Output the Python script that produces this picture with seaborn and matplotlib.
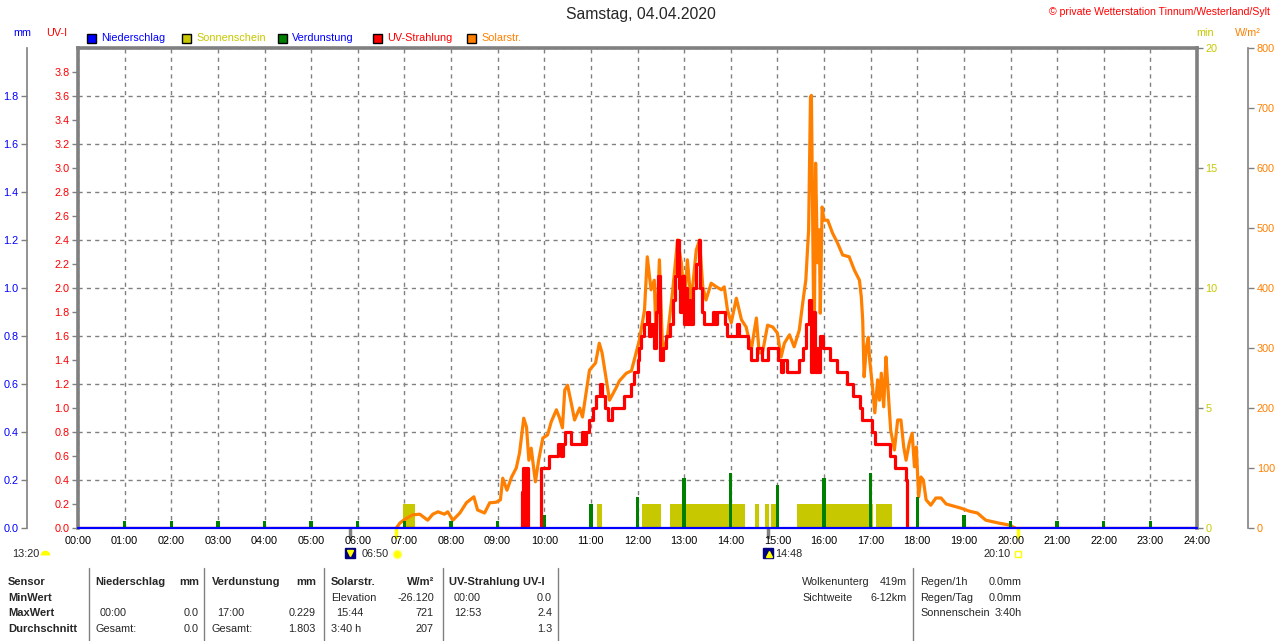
import numpy as np
import matplotlib
matplotlib.use("Agg")
import matplotlib.pyplot as plt
from matplotlib.patches import Rectangle
from matplotlib.lines import Line2D
from matplotlib.ticker import MultipleLocator
import seaborn as sns

# ---------------- data ----------------
hours = list(range(25))
hour_labels = [f"{h:02d}:00" for h in hours]

# UV index (steps)
uv_t = [0.0, 9.53, 9.545, 9.58, 9.61, 9.66, 9.92, 10.11, 10.29, 10.36, 10.40, 10.44, 10.58,
        10.80, 10.86, 10.90, 10.97, 11.04, 11.12, 11.19, 11.23, 11.30, 11.36, 11.45, 11.72,
        11.86, 11.93, 12.00, 12.04, 12.08, 12.15, 12.20, 12.25, 12.30, 12.35, 12.40, 12.45,
        12.49, 12.55, 12.62, 12.70, 12.77, 12.81, 12.85, 12.89, 12.92, 12.95, 12.99, 13.03,
        13.06, 13.10, 13.13, 13.20, 13.26, 13.31, 13.35, 13.38, 13.42, 13.62, 13.66, 13.70,
        13.88, 13.92, 14.13, 14.17, 14.38, 14.43, 14.56, 14.66, 14.80, 15.02, 15.07, 15.12,
        15.20, 15.47, 15.55, 15.62, 15.67, 15.72, 15.77, 15.80, 15.84, 15.88, 15.92, 15.97,
        16.13, 16.27, 16.49, 16.63, 16.78, 16.82, 17.02, 17.09, 17.42, 17.52, 17.75, 17.79, 24.0]
uv_v = [0.0, 0.3, 0.5, 0.0, 0.5, 0.0, 0.5, 0.6, 0.7, 0.6, 0.7, 0.8, 0.7,
        0.8, 0.7, 0.8, 0.9, 1.0, 1.1, 1.2, 1.1, 1.0, 0.9, 1.0, 1.1,
        1.2, 1.3, 1.4, 1.5, 1.6, 1.7, 1.8, 1.6, 1.7, 1.5, 1.8, 2.1,
        1.4, 1.5, 1.6, 1.7, 1.9, 2.1, 2.4, 2.0, 1.8, 2.1, 1.7, 2.0,
        1.7, 1.9, 1.7, 2.0, 2.2, 2.4, 2.0, 1.8, 1.7, 1.8, 1.7, 1.8,
        1.7, 1.6, 1.7, 1.6, 1.5, 1.4, 1.5, 1.4, 1.5, 1.4, 1.3, 1.4,
        1.3, 1.4, 1.5, 1.7, 1.9, 1.3, 1.8, 1.3, 1.5, 1.3, 1.6, 1.5,
        1.4, 1.3, 1.2, 1.1, 1.0, 0.9, 0.8, 0.7, 0.6, 0.5, 0.4, 0.0, 0.0]

# Solar radiation W/m²
sol_t = [6.83, 6.90, 7.00, 7.18, 7.33, 7.50, 7.61, 7.72, 7.86, 7.93, 8.04, 8.19, 8.33, 8.49,
         8.57, 8.72, 8.83, 8.97, 9.06, 9.11, 9.20, 9.30, 9.40, 9.47, 9.56, 9.62, 9.67, 9.72,
         9.81, 9.88, 9.97, 10.07, 10.15, 10.26, 10.33, 10.39, 10.44, 10.50, 10.58, 10.65,
         10.76, 10.82, 10.97, 11.10, 11.18, 11.24, 11.40, 11.55, 11.61, 11.76, 11.87, 12.04,
         12.15, 12.21, 12.29, 12.36, 12.40, 12.47, 12.54, 12.64, 12.75, 12.86, 12.94, 13.01,
         13.07, 13.15, 13.26, 13.33, 13.40, 13.47, 13.58, 13.69, 13.80, 13.86, 13.93, 14.01,
         14.12, 14.23, 14.33, 14.44, 14.55, 14.61, 14.68, 14.79, 14.90, 15.00, 15.08, 15.15,
         15.26, 15.36, 15.47, 15.56, 15.61, 15.67, 15.71, 15.73, 15.77, 15.79, 15.82, 15.86,
         15.90, 15.92, 15.96, 16.00, 16.08, 16.18, 16.29, 16.40, 16.54, 16.65, 16.76, 16.80,
         16.83, 16.86, 16.91, 16.95, 16.98, 17.04, 17.09, 17.15, 17.19, 17.23, 17.28, 17.33,
         17.36, 17.43, 17.51, 17.58, 17.65, 17.71, 17.76, 17.83, 17.89, 17.94, 17.98, 18.03,
         18.08, 18.13, 18.19, 18.29, 18.40, 18.51, 18.62, 18.76, 18.94, 19.12, 19.29, 19.47,
         19.76, 19.97, 20.10]
sol_v = [0, 8, 14, 22, 23, 13, 23, 27, 23, 27, 13, 25, 42, 52,
         30, 25, 42, 43, 47, 83, 63, 85, 100, 125, 183, 168, 113, 133,
         77, 113, 150, 155, 177, 197, 183, 167, 230, 238, 208, 180,
         200, 185, 263, 275, 308, 292, 213, 235, 245, 258, 262, 313,
         363, 452, 397, 413, 313, 447, 292, 318, 392, 480, 442, 375,
         447, 375, 463, 480, 402, 380, 408, 402, 397, 402, 363, 342,
         383, 347, 335, 297, 350, 292, 292, 338, 335, 325, 285, 308,
         322, 302, 330, 385, 413, 497, 718, 721, 413, 302, 608, 442,
         497, 358, 535, 513, 513, 492, 475, 455, 452, 430, 413, 385,
         347, 252, 302, 318, 280, 235, 192, 247, 213, 258, 202, 285,
         247, 163, 130, 180, 180, 135, 113, 142, 158, 102, 135, 52,
         85, 80, 47, 38, 50, 50, 40, 37, 33, 28, 25, 13,
         8, 5, 0]

# Evaporation mm (hourly)
evap_t = list(range(1, 24))
evap_v = [0.03, 0.03, 0.03, 0.03, 0.03, 0.03, 0.03, 0.03, 0.03, 0.054, 0.10, 0.13,
          0.21, 0.23, 0.18, 0.21, 0.229, 0.13, 0.054, 0.03, 0.03, 0.03, 0.03]

# Sunshine minutes
sun_start = [6.96, 11.14, 12.09, 12.69, 14.53, 14.74, 14.87, 15.43, 17.12]
sun_end = [7.22, 11.23, 12.51, 14.31, 14.61, 14.83, 15.04, 15.06 + 2.0, 17.46]
sun_min = [1, 1, 1, 1, 1, 1, 1, 1, 1]

# Precipitation mm
rain_t = [0.0, 24.0]
rain_v = [0.0, 0.0]

# sun / moon events (hours)
gray_events = [5.83, 14.8]
yellow_events = [6.83, 20.17]

# ---------------- style ----------------
sns.set_theme(style="white")
plt.rcParams['font.family'] = ['Liberation Sans', 'DejaVu Sans']

W, H = 1280, 641
fig = plt.figure(figsize=(12.8, 6.41), dpi=100)
fig.patch.set_facecolor('white')


def fx(p):
    return p / W


def fy(p):
    return 1 - p / H


GRAY = '#808080'
RED = '#ff0000'
ORANGE = '#ff8000'
YEL = '#c8c800'
BLUE = '#0000ff'
GREEN = '#008000'
FS = 7.8

L, R, T, B = 78, 1197, 48, 528
ax = fig.add_axes([fx(L), fy(B), (R - L) / W, (B - T) / H])
ax_min = ax.twinx()
ax_w = ax.twinx()
ax_mm = ax.twinx()

ax_min.set_zorder(1)
ax_w.set_zorder(2)
ax.set_zorder(3)
ax_mm.set_zorder(4)
for a in (ax, ax_min, ax_w, ax_mm):
    a.patch.set_visible(False)
    a.set_xlim(0, 24)
    for s in a.spines.values():
        s.set_visible(False)

ax.set_ylim(0, 4)
ax_mm.set_ylim(0, 2)
ax_min.set_ylim(0, 20)
ax_w.set_ylim(0, 800)

# grid on lowest axes
ax_min.xaxis.set_visible(True)
ax_min.set_xticks(hours)
ax_min.tick_params(axis='x', length=0, labelbottom=False, labeltop=False)
ax_min.grid(axis='x', color=GRAY, linestyle=(0, (3, 3)), linewidth=1)
ax_min.yaxis.set_minor_locator(MultipleLocator(2))
ax_min.yaxis.remove_overlapping_locs = False
ax_min.grid(axis='y', which='minor', color=GRAY, linestyle=(0, (3, 3)), linewidth=1)
ax_min.grid(axis='y', which='major', visible=False)
ax_min.tick_params(axis='y', which='minor', length=0)

# sunshine bars
ax_min.bar(sun_start, sun_min, width=np.array(sun_end) - np.array(sun_start), align='edge',
           color=YEL, linewidth=0, zorder=2)

# solar line
sns.lineplot(x=sol_t, y=sol_v, ax=ax_w, color=ORANGE, linewidth=2.3, estimator=None, sort=False)

# UV line
sns.lineplot(x=uv_t, y=uv_v, ax=ax, color=RED, linewidth=2.3, estimator=None, sort=False,
             drawstyle='steps-post')

# evaporation bars and precipitation line
ax_mm.bar(evap_t, evap_v, width=0.075, color=GREEN, linewidth=0)
sns.lineplot(x=rain_t, y=rain_v, ax=ax_mm, color=BLUE, linewidth=1.6, estimator=None)
for ln in ax_mm.lines:
    ln.set_clip_on(False)

for a in (ax, ax_min, ax_w, ax_mm):
    a.set_xlabel('')
    a.set_ylabel('')

# main spines
for side in ('left', 'top', 'right'):
    ax.spines[side].set_visible(True)
    ax.spines[side].set_color(GRAY)
    ax.spines[side].set_linewidth(2.6)
ax.spines['bottom'].set_visible(True)
ax.spines['bottom'].set_color(GRAY)
ax.spines['bottom'].set_linewidth(1.2)

# x ticks
ax.set_xticks(hours)
ax.set_xticklabels(hour_labels)
ax.tick_params(axis='x', labelsize=FS, color=GRAY, length=3, width=1, pad=3, labelcolor='black')

# UV axis
uv_ticks = [round(v * 0.2, 1) for v in range(20)]
ax.set_yticks(uv_ticks)
ax.set_yticklabels([f"{v:.1f}" for v in uv_ticks])
ax.yaxis.set_ticks_position('left')
ax.tick_params(axis='y', labelsize=FS, color=GRAY, labelcolor=RED, length=4, width=1, pad=2,
               left=True, right=False)

# mm axis
ax_mm.yaxis.set_ticks_position('left')
ax_mm.yaxis.set_label_position('left')
ax_mm.spines['left'].set_visible(True)
ax_mm.spines['left'].set_position(('outward', 37))
ax_mm.spines['left'].set_color(GRAY)
ax_mm.spines['left'].set_linewidth(1.2)
mm_ticks = [round(v * 0.2, 1) for v in range(10)]
ax_mm.set_yticks(mm_ticks)
ax_mm.set_yticklabels([f"{v:.1f}" for v in mm_ticks])
ax_mm.tick_params(axis='y', labelsize=FS, color=GRAY, labelcolor=BLUE, length=4, width=1, pad=2)

# min axis
ax_min.set_yticks([0, 5, 10, 15, 20])
ax_min.set_yticklabels(['0', '5', '10', '15', '20'])
ax_min.tick_params(axis='y', which='major', labelsize=FS, color=GRAY, labelcolor=YEL,
                   length=4, width=1, pad=2)

# W/m² axis
ax_w.spines['right'].set_visible(True)
ax_w.spines['right'].set_position(('outward', 37))
ax_w.spines['right'].set_color(GRAY)
ax_w.spines['right'].set_linewidth(1.2)
w_ticks = list(range(0, 801, 100))
ax_w.set_yticks(w_ticks)
ax_w.set_yticklabels([str(v) for v in w_ticks])
ax_w.tick_params(axis='y', labelsize=FS, color=GRAY, labelcolor=ORANGE, length=4, width=1, pad=2)

# ---------------- texts ----------------
fig.text(fx(641), fy(15), "Samstag, 04.04.2020", ha='center', va='center', fontsize=11.3)
fig.text(fx(1270), fy(12), "\u00a9 private Wetterstation Tinnum/Westerland/Sylt", ha='right',
         va='center', fontsize=7.6, color=RED)
fig.text(fx(22), fy(33), "mm", ha='center', va='center', fontsize=FS, color=BLUE)
fig.text(fx(57), fy(33), "UV-I", ha='center', va='center', fontsize=FS, color=RED)
fig.text(fx(1205), fy(33), "min", ha='center', va='center', fontsize=FS, color=YEL)
fig.text(fx(1248), fy(33), "W/m\u00b2", ha='center', va='center', fontsize=FS, color=ORANGE)

legend_items = [("Niederschlag", BLUE, BLUE, 87), ("Sonnenschein", YEL, YEL, 182),
                ("Verdunstung", GREEN, BLUE, 278), ("UV-Strahlung", RED, RED, 373),
                ("Solarstr.", ORANGE, ORANGE, 467)]
for label, sq, tc, px in legend_items:
    fig.patches.append(Rectangle((fx(px), fy(43)), 9 / W, 9 / H, transform=fig.transFigure,
                                 facecolor=sq, edgecolor='black', linewidth=1.0))
    fig.text(fx(px + 14), fy(38), label, ha='left', va='center', fontsize=FS, color=tc)

# event ticks below the axis
for t in gray_events:
    xp = L + t * (R - L) / 24
    fig.add_artist(Line2D([fx(xp), fx(xp)], [fy(529), fy(537)], color=GRAY, linewidth=2.5))
for t in yellow_events:
    xp = L + t * (R - L) / 24
    fig.add_artist(Line2D([fx(xp), fx(xp)], [fy(529), fy(537)], color='#ffff00', linewidth=2.5))

# sun / moon texts
fig.text(fx(12), fy(554), "13:20", ha='left', va='center', fontsize=FS)
fig.add_artist(Line2D([fx(45)], [fy(555)], marker='o', markersize=7, fillstyle='top',
                      color='#ffff00', markeredgewidth=0))
fig.add_artist(Line2D([fx(350)], [fy(553)], marker='s', markersize=7, color='#000080'))
fig.add_artist(Line2D([fx(350)], [fy(553)], marker='v', markersize=4, color='#ffff00'))
fig.text(fx(362), fy(554), "06:50", ha='left', va='center', fontsize=FS)
fig.add_artist(Line2D([fx(397)], [fy(554)], marker='o', markersize=6, color='#ffff00',
                      markeredgecolor='#ffff80'))
fig.add_artist(Line2D([fx(768)], [fy(553)], marker='s', markersize=7, color='#000080'))
fig.add_artist(Line2D([fx(769)], [fy(554)], marker='^', markersize=4, color='#ffff00'))
fig.text(fx(775), fy(554), "14:48", ha='left', va='center', fontsize=FS)
fig.text(fx(984), fy(554), "20:10", ha='left', va='center', fontsize=FS)
fig.add_artist(Line2D([fx(1018)], [fy(554)], marker='s', markersize=5, color='white',
                      markeredgecolor='#ffff00', markeredgewidth=1))

# ---------------- table ----------------
for xp in (89, 204, 324, 443, 558, 913):
    fig.add_artist(Line2D([fx(xp), fx(xp)], [fy(568), fy(641)], color=GRAY, linewidth=1))

rows = [582, 598, 613, 629]
BF = 8.0
for i, lab in enumerate(["Sensor", "MinWert", "MaxWert", "Durchschnitt"]):
    fig.text(fx(8), fy(rows[i]), lab, ha='left', va='center', fontsize=BF, fontweight='bold')

# headers
hdr = [("Niederschlag", 95, "mm", 199), ("Verdunstung", 212, "mm", 316),
       ("Solarstr.", 331, "W/m\u00b2", 434), ("UV-Strahlung UV-I", 449, None, None)]
for name, x0, unit, x1 in hdr:
    fig.text(fx(x0), fy(rows[0]), name, ha='left', va='center', fontsize=BF, fontweight='bold')
    if unit:
        fig.text(fx(x1), fy(rows[0]), unit, ha='right', va='center', fontsize=BF, fontweight='bold')

cells = [
    (95, 199, 2, "00:00", "0.0"), (95, 199, 3, "Gesamt:", "0.0"),
    (212, 316, 2, "17:00", "0.229"), (212, 316, 3, "Gesamt:", "1.803"),
    (331, 434, 1, "Elevation", "-26.120"), (331, 434, 2, "15:44", "721"), (331, 434, 3, "3:40 h", "207"),
    (449, 552, 1, "00:00", "0.0"), (449, 552, 2, "12:53", "2.4"), (449, 552, 3, "", "1.3"),
]
for x0, x1, r, left, right in cells:
    indent = 5 if left[:1].isdigit() and r in (1, 2) else 0
    fig.text(fx(x0 + indent), fy(rows[r]), left, ha='left', va='center', fontsize=FS)
    fig.text(fx(x1), fy(rows[r]), right, ha='right', va='center', fontsize=FS)

right_cells = [(802, 907, 0, "Wolkenunterg", "419m"), (802, 907, 1, "Sichtweite", "6-12km"),
               (920, 1022, 0, "Regen/1h", "0.0mm"), (920, 1022, 1, "Regen/Tag", "0.0mm"),
               (920, 1022, 2, "Sonnenschein", "3:40h")]
for x0, x1, r, left, right in right_cells:
    fig.text(fx(x0), fy(rows[r]), left, ha='left', va='center', fontsize=FS)
    fig.text(fx(x1), fy(rows[r]), right, ha='right', va='center', fontsize=FS)

fig.savefig("out.png", dpi=100, facecolor='white')
